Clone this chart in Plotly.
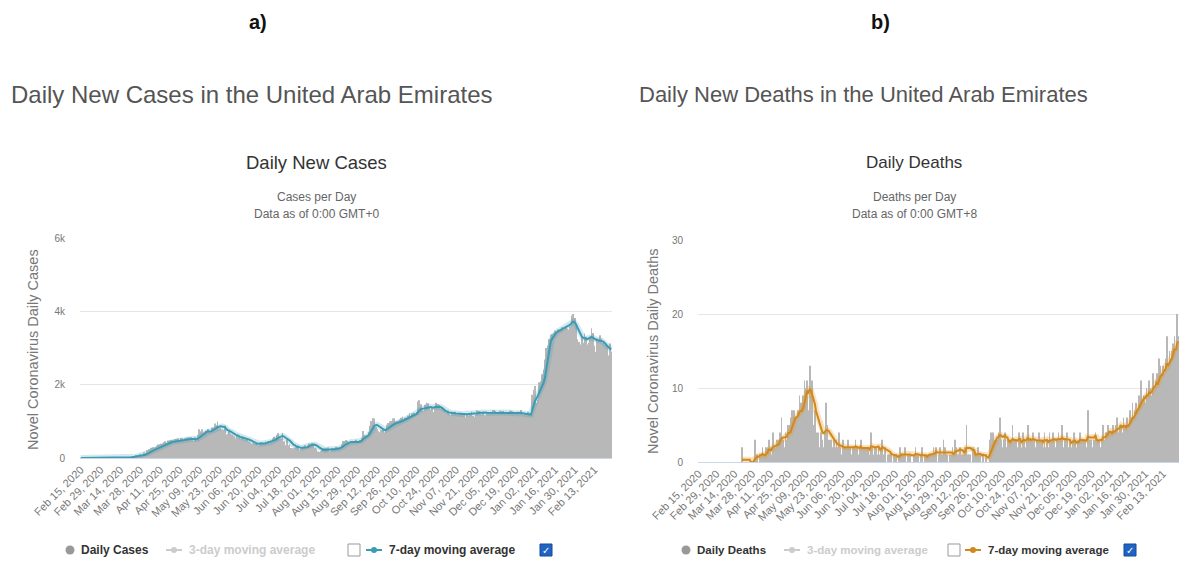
import plotly.graph_objects as go
import pandas as pd

W, H = 1179, 585

# ---------------- data (Feb 15, 2020 -> Feb 25, 2021, one value per day) -------------
day_labels = [d.strftime("%b %d, %Y") for d in pd.date_range("2020-02-15", "2021-02-25", freq="D")]

cases_daily = [
    0,0,0,0,0,0,0,  0,0,0,0,0,6,0,  0,0,0,6,0,0,2,  15,0,0,15,0,11,0,
    12,0,12,0,15,27,13,  13,45,45,50,85,72,63,  102,41,53,150,136,210,240,
    241,277,294,283,300,331,370,  376,387,398,432,460,412,477,  479,490,484,483,518,525,532,
    490,536,541,490,537,552,557,  561,564,546,462,567,502,624,  781,731,783,698,725,747,793,
    710,731,832,822,941,892,994,  812,822,779,764,883,638,661,  764,661,635,596,589,540,626,
    568,528,553,544,503,510,495,  452,414,380,402,388,392,346,  349,365,422,411,401,452,437,
    455,402,449,532,582,551,627,  681,532,532,683,456,351,514,  348,370,275,266,263,283,291,
    344,206,246,296,305,346,283,  350,395,390,406,375,279,254,  175,164,189,225,270,279,271,
    283,172,191,266,231,251,305,  284,286,296,365,462,461,489,  462,392,403,427,433,463,496,
    406,456,488,547,735,630,615,  619,709,881,1007,1083,1074,836,  791,727,703,758,774,688,767,
    906,952,1004,1007,1077,1083,1002,  1008,1013,1047,1100,1131,1052,1100,
    1100,1156,1225,1146,1219,1231,1171,  1255,1538,1578,1467,1330,1285,1455,
    1512,1491,1409,1316,1396,1255,1380,  1509,1467,1443,1347,1362,1318,1306,
    1227,1293,1196,1167,1244,1194,1262,  1188,1224,1180,1234,1210,1178,1215,
    1112,1197,1154,1172,1261,1147,1124,  1179,1298,1279,1260,1177,1263,1157,
    1169,1225,1253,1226,1219,1307,1311,  1283,1227,1246,1291,1277,1283,1201,
    1262,1242,1242,1291,1289,1274,1253,  1207,1208,1261,1249,1309,1222,1171,
    1228,1175,1258,1226,1214,1723,1856,  1967,1501,1587,2067,2096,2281,2404,
    2688,2998,3066,3243,3362,3382,3407,  3471,3434,3506,3498,3491,3567,3495,
    3552,3579,3525,3506,3591,3887,3928,  3816,3645,3240,3161,3093,3310,3140,
    3393,3310,3093,3140,3307,3536,3412,  3058,2890,3257,3194,3345,3252,3139,
    3094,3075,3005,2798,3124,2905,
]

cases_avg7 = [
    0,0,0,0,0,0,0,  0,0,0,0,0,1,1,  1,1,1,2,2,2,2,  3,3,3,5,5,6,6,
    6,6,7,5,6,9,11,  11,18,23,27,37,46,54,  64,64,65,79,88,111,138,
    158,177,203,222,235,248,267,  286,302,317,338,361,372,392,  407,422,434,441,450,466,474,
    475,483,491,492,495,499,503,  513,517,518,514,518,511,526,  557,581,614,648,671,706,730,
    720,720,741,759,790,811,840,  854,867,860,852,844,808,760,  753,730,710,686,644,630,624,
    596,577,565,557,545,541,524,  508,492,467,446,429,412,391,  391,384,390,392,394,403,412,
    427,432,436,453,478,492,520,  552,570,582,604,586,562,550,  502,479,442,383,355,344,306,
    305,281,277,281,287,296,295,  296,323,344,360,370,361,347,  322,289,260,234,219,219,223,
    239,240,240,246,240,236,240,  240,256,271,285,318,348,374,  399,414,430,439,435,436,437,
    429,438,450,467,510,534,551,  581,617,673,739,803,866,894,  900,880,850,820,790,770,760,
    780,810,840,870,900,920,940,  950,960,970,990,1010,1030,1050,
    1070,1090,1110,1130,1150,1170,1180,  1200,1250,1300,1330,1340,1350,1360,
    1380,1390,1400,1390,1380,1370,1390,  1400,1410,1400,1390,1370,1340,1300,
    1270,1250,1240,1230,1230,1220,1220,  1215,1210,1210,1205,1200,1200,1200,
    1195,1195,1200,1200,1205,1205,1200,  1210,1220,1230,1235,1240,1245,1245,
    1240,1235,1235,1230,1235,1235,1240,  1245,1245,1240,1240,1245,1245,1240,
    1240,1240,1240,1245,1245,1240,1240,  1235,1230,1230,1230,1225,1220,1210,
    1200,1190,1190,1185,1180,1300,1450,  1560,1620,1700,1780,1860,1950,2050,
    2200,2450,2750,3000,3150,3250,3320,  3380,3420,3450,3470,3490,3510,3530,
    3550,3570,3590,3610,3640,3690,3720,  3700,3650,3560,3470,3380,3320,3280,
    3260,3250,3240,3260,3280,3300,3280,  3250,3230,3220,3210,3210,3200,3180,
    3150,3100,3060,3020,2990,2960,
]

deaths_daily = [
    0,0,0,0,0,0,0,  0,0,0,0,0,0,0,  0,0,0,0,0,0,0,  0,0,0,0,0,0,0,
    0,0,0,0,0,0,2,  0,0,0,0,0,0,0,  0,0,3,1,1,0,1,
    1,2,1,1,2,2,3,  2,1,4,2,2,3,3,  2,4,6,3,2,4,3,
    5,5,6,7,6,7,6,  6,7,9,8,6,9,11,  10,11,7,13,8,11,5,
    7,3,4,4,2,4,3,  2,4,8,5,3,2,3,  2,3,2,3,2,4,2,
    1,3,1,2,2,3,2,  2,1,2,2,3,2,1,  2,3,1,2,2,2,1,
    2,1,4,2,1,2,2,  1,2,1,2,3,1,2,  0,1,1,1,1,0,1,
    1,1,0,1,2,1,1,  1,2,0,1,1,1,0,  0,1,2,1,1,0,1,
    2,0,1,1,0,1,1,  1,1,2,1,2,0,1,  2,1,1,3,2,1,1,
    0,1,1,2,1,3,2,  1,1,2,1,1,1,2,  5,1,1,1,0,2,1,
    1,1,2,1,1,0,1,  0,1,0,0,3,4,3,
    4,3,2,3,4,6,3,  2,3,4,2,3,3,2,  3,5,3,2,3,2,4,  3,2,4,3,2,3,5,
    2,3,3,4,3,2,3,  2,4,3,3,2,4,2,  3,2,4,3,3,4,3,  2,3,4,3,3,5,2,
    3,3,4,2,3,2,3,  4,3,2,3,3,4,3,  3,2,3,2,7,3,3,  3,2,3,4,3,2,3,
    2,3,5,3,4,4,5,  4,4,3,5,4,5,6,  4,5,5,4,6,5,5,  6,5,7,6,8,6,7,
    8,7,9,8,11,8,9,  8,10,9,11,10,9,12,  10,11,12,10,14,13,12,
    13,12,14,17,13,15,14,  15,16,17,15,20,17,
]

deaths_avg7 = [
    None,None,None,None,None,None,None,  None,None,None,None,None,None,None,
    None,None,None,None,None,None,None,  None,None,None,None,None,None,None,
    None,None,None,None,None,None,0.3,  0.3,0.3,0.3,0.3,0.3,0.3,0.0,
    0.0,0.0,0.4,0.6,0.7,0.7,0.9,  0.9,1.1,1.0,0.9,1.1,1.3,1.7,
    1.7,1.6,2.0,2.1,2.1,2.3,2.4,  2.4,2.9,3.1,3.3,3.3,3.4,3.4,
    3.9,4.0,4.0,4.6,5.1,5.6,6.0,  6.1,6.3,6.7,6.9,6.9,7.3,8.0,
    9.0,9.6,9.4,9.8,9.7,9.1,8.6,  7.9,6.9,6.3,5.6,5.0,4.5,4.0,
    3.9,4.1,4.3,4.3,4.2,3.9,3.6,  3.4,3.0,2.7,2.6,2.4,2.3,2.2,
    2.1,2.1,2.0,2.0,2.0,2.0,2.0,  2.0,1.9,2.0,2.0,2.1,2.0,1.9,
    1.9,2.1,1.9,1.9,1.9,1.9,1.9,  1.9,1.7,2.1,2.1,2.0,2.0,2.0,
    2.0,2.1,1.7,1.7,2.0,1.9,1.9,  1.7,1.6,1.6,1.4,1.1,1.0,0.9,
    0.9,0.9,0.7,0.7,0.9,1.0,1.0,  1.0,1.1,1.1,1.1,1.0,1.0,0.9,
    0.9,0.9,1.1,1.1,1.1,1.0,0.9,  1.0,0.9,0.9,0.9,0.7,0.9,1.0,
    1.0,1.1,1.1,1.1,1.4,1.3,1.3,  1.3,1.3,1.3,1.4,1.3,1.4,1.4,
    1.3,1.3,1.3,1.2,1.1,1.4,1.4,  1.5,1.6,1.7,1.6,1.6,1.3,1.4,
    1.9,1.9,1.9,1.9,1.7,1.7,1.6,  1.0,1.0,1.1,1.1,1.1,0.9,1.0,
    0.9,0.9,0.7,0.6,0.9,1.4,1.7,  2.3,2.6,2.9,3.3,3.4,3.6,3.6,
    3.4,3.4,3.6,3.4,3.3,2.9,2.7,  2.9,3.1,3.0,3.0,3.0,2.9,3.1,
    3.1,2.7,2.9,3.0,2.9,3.0,3.3,  3.0,3.1,3.0,3.1,3.1,3.0,2.9,
    2.9,3.0,3.0,2.9,2.7,3.0,2.9,  3.0,2.7,2.9,2.9,3.0,3.0,3.1,
    3.0,3.1,3.1,3.1,3.1,3.3,3.1,  3.1,3.1,3.1,3.0,3.0,2.6,2.7,
    2.9,2.9,2.6,2.7,2.7,3.0,3.0,  2.9,2.9,3.0,2.9,3.4,3.3,3.3,
    3.3,3.3,3.3,3.6,3.0,2.9,2.9,  2.9,3.0,3.3,3.3,3.4,3.6,3.9,
    4.1,4.1,3.9,4.1,4.1,4.3,4.4,  4.4,4.6,4.9,4.7,4.9,4.9,4.7,
    4.9,4.9,5.3,5.6,5.9,6.0,6.4,  6.7,7.0,7.3,7.6,8.0,8.3,8.6,
    8.6,9.0,9.0,9.4,9.3,9.4,9.9,  10.1,10.3,10.7,10.6,11.1,11.6,11.7,
    12.1,12.3,12.6,13.3,13.1,13.4,13.7,  14.0,14.6,15.3,15.1,16.0,16.3,
]

tick_labels = ["Feb 15, 2020", "Feb 29, 2020", "Mar 14, 2020", "Mar 28, 2020", "Apr 11, 2020",
               "Apr 25, 2020", "May 09, 2020", "May 23, 2020", "Jun 06, 2020", "Jun 20, 2020",
               "Jul 04, 2020", "Jul 18, 2020", "Aug 01, 2020", "Aug 15, 2020", "Aug 29, 2020",
               "Sep 12, 2020", "Sep 26, 2020", "Oct 10, 2020", "Oct 24, 2020", "Nov 07, 2020",
               "Nov 21, 2020", "Dec 05, 2020", "Dec 19, 2020", "Jan 02, 2021", "Jan 16, 2021",
               "Jan 30, 2021", "Feb 13, 2021"]
cases_yticks = [0, 2000, 4000, 6000]
cases_yticktext = ["0", "2k", "4k", "6k"]
deaths_yticks = [0, 10, 20, 30]
deaths_yticktext = ["0", "10", "20", "30"]

# ---------------- styling ----------------
FONT = "Liberation Sans, Arial, sans-serif"
BAR_COLOR = "#b8b8b8"
CASE_LINE = "#3d9ab3"
CASE_HALO = "rgba(61,154,179,0.22)"
DEATH_LINE = "#d1891d"
DEATH_HALO = "rgba(230,150,30,0.28)"


def px(x):
    return x / W


def py(y):
    return 1 - y / H


fig = go.Figure()

fig.add_trace(go.Bar(x=day_labels, y=cases_daily, marker=dict(color=BAR_COLOR, line=dict(width=0)),
                     xaxis="x", yaxis="y", showlegend=False))
fig.add_trace(go.Scatter(x=day_labels, y=cases_avg7, mode="lines", line=dict(color=CASE_HALO, width=6),
                         xaxis="x", yaxis="y", showlegend=False, hoverinfo="skip"))
fig.add_trace(go.Scatter(x=day_labels, y=cases_avg7, mode="lines", line=dict(color=CASE_LINE, width=2),
                         xaxis="x", yaxis="y", showlegend=False))
fig.add_trace(go.Bar(x=day_labels, y=deaths_daily, marker=dict(color=BAR_COLOR, line=dict(width=0)),
                     xaxis="x2", yaxis="y2", showlegend=False))
fig.add_trace(go.Scatter(x=day_labels, y=deaths_avg7, mode="lines", line=dict(color=DEATH_HALO, width=6),
                         xaxis="x2", yaxis="y2", showlegend=False, connectgaps=False, hoverinfo="skip"))
fig.add_trace(go.Scatter(x=day_labels, y=deaths_avg7, mode="lines", line=dict(color=DEATH_LINE, width=2),
                         xaxis="x2", yaxis="y2", showlegend=False, connectgaps=False))

xcommon = dict(type="category", tickmode="array", tickvals=tick_labels, ticktext=tick_labels,
               tickangle=-45, tickfont=dict(family=FONT, size=11, color="#777"),
               showgrid=False, showline=True, linecolor="#ccd6eb", linewidth=1,
               ticks="", zeroline=False, range=[-0.5, len(day_labels) - 0.5], fixedrange=True,
               automargin=False)
ycommon = dict(showgrid=True, gridcolor="#e6e6e6", gridwidth=1, zeroline=False, showline=False,
               ticks="", tickfont=dict(family=FONT, size=10, color="#777"), tickmode="array",
               automargin=False)

fig.update_layout(
    template="none",
    width=W, height=H, autosize=False,
    margin=dict(l=0, r=0, t=0, b=0, pad=0),
    paper_bgcolor="white", plot_bgcolor="white",
    bargap=0.42,
    xaxis=dict(domain=[px(80), px(612)], anchor="y", **xcommon),
    yaxis=dict(domain=[py(458), py(238)], anchor="x", range=[0, 6000],
               tickvals=cases_yticks, ticktext=cases_yticktext, ticklabelstandoff=14, **ycommon),
    xaxis2=dict(domain=[px(698), px(1179)], anchor="y2", **xcommon),
    yaxis2=dict(domain=[py(462), py(240)], anchor="x2", range=[0, 30],
                tickvals=deaths_yticks, ticktext=deaths_yticktext, ticklabelstandoff=14, **ycommon),
)

ann = []


def text(x, y, s, size, color="#333", xanchor="center", angle=0, bold=False, family=FONT):
    if bold:
        s = "<b>" + s + "</b>"
    ann.append(dict(x=px(x), y=py(y), xref="paper", yref="paper", text=s, showarrow=False,
                    xanchor=xanchor, yanchor="middle", textangle=angle,
                    font=dict(family=family, size=size, color=color)))


# panel letters
text(258, 22, "a)", 20, "#111", bold=True)
text(880, 22, "b)", 20, "#111", bold=True)
# page titles
text(9, 95, "Daily New Cases in the United Arab Emirates", 24, "#555", xanchor="left")
text(637, 95, "Daily New Deaths in the United Arab Emirates", 22, "#555", xanchor="left")
# chart titles
text(316, 162, "Daily New Cases", 18.5, "#333")
text(316, 197, "Cases per Day", 12, "#666")
text(316, 214, "Data as of 0:00 GMT+0", 12, "#666")
text(914, 162, "Daily Deaths", 17, "#333")
text(914, 197, "Deaths per Day", 12, "#666")
text(914, 214, "Data as of 0:00 GMT+8", 12, "#666")
# y axis titles
text(33, 350, "Novel Coronavirus Daily Cases", 14.5, "#777", angle=-90)
text(653, 351, "Novel Coronavirus Daily Deaths", 14.5, "#777", angle=-90)

shapes = []


def series_symbol(x, ly, color):
    shapes.append(dict(type="line", xref="paper", yref="paper", x0=px(x), x1=px(x + 16),
                       y0=py(ly), y1=py(ly), line=dict(color=color, width=2)))
    shapes.append(dict(type="circle", xref="paper", yref="paper", x0=px(x + 5), x1=px(x + 11),
                       y0=py(ly + 3), y1=py(ly - 3), fillcolor=color, line=dict(width=0)))


def checkbox(x, ly, checked):
    if checked:
        shapes.append(dict(type="rect", xref="paper", yref="paper", x0=px(x), x1=px(x + 12),
                           y0=py(ly + 6), y1=py(ly - 6), fillcolor="#1f63c6",
                           line=dict(color="#174a94", width=1)))
        text(x + 6, ly, "✓", 10, "white", bold=True, family="DejaVu Sans, sans-serif")
    else:
        shapes.append(dict(type="rect", xref="paper", yref="paper", x0=px(x), x1=px(x + 12),
                           y0=py(ly + 6), y1=py(ly - 6), fillcolor="white",
                           line=dict(color="#999", width=1)))


def legend(ly, dot_x, name, line_color, sym3_x, box1_x, sym7_x, box2_x, fsize):
    shapes.append(dict(type="circle", xref="paper", yref="paper", x0=px(dot_x - 4.5), x1=px(dot_x + 4.5),
                       y0=py(ly + 4.5), y1=py(ly - 4.5), fillcolor="#999", line=dict(width=0)))
    text(dot_x + 9, ly, name, fsize, "#333", xanchor="left", bold=True)
    series_symbol(sym3_x, ly, "#cccccc")
    text(sym3_x + 21, ly, "3-day moving average", fsize, "#cccccc", xanchor="left", bold=True)
    checkbox(box1_x, ly, False)
    series_symbol(sym7_x, ly, line_color)
    text(sym7_x + 21, ly, "7-day moving average", fsize, "#333", xanchor="left", bold=True)
    checkbox(box2_x, ly, True)


legend(550, 70, "Daily Cases", CASE_LINE, 166, 348, 366, 540, 12)
legend(550, 686, "Daily Deaths", DEATH_LINE, 784, 948, 965, 1124, 11.5)

fig.update_layout(annotations=ann, shapes=shapes)
fig.write_html("out.html")
